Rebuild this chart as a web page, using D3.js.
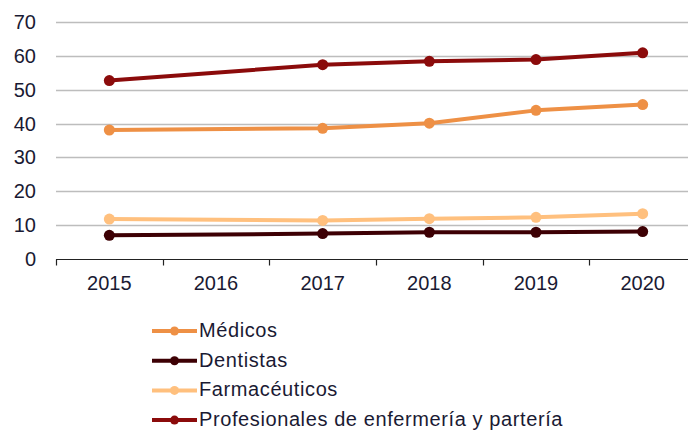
<!DOCTYPE html>
<html>
<head>
<meta charset="utf-8">
<script src="https://cdn.jsdelivr.net/npm/d3@7"></script>
<style>
  body { margin: 0; background: #fff; }
  svg { display: block; font-family: "Liberation Sans", Arial, sans-serif; }
</style>
</head>
<body>
<div id="chart"></div>
<script>
// Data
const years = ["2015", "2016", "2017", "2018", "2019", "2020"];
const medicos = [38.1, null, 38.6, 40.1, 43.9, 45.6];
const dentistas = [7.0, null, 7.5, 7.9, 7.9, 8.1];
const farmaceuticos = [11.8, null, 11.4, 11.9, 12.3, 13.4];
const enfermeria = [52.7, null, 57.4, 58.4, 58.9, 60.9];
const yTicks = [0, 10, 20, 30, 40, 50, 60, 70];

const series = [
  { name: "Médicos", values: medicos, color: "#ee9045" },
  { name: "Dentistas", values: dentistas, color: "#3d0004" },
  { name: "Farmacéuticos", values: farmaceuticos, color: "#ffc07e" },
  { name: "Profesionales de enfermería y partería", values: enfermeria, color: "#8b0b0b" },
];

const width = 688;
const height = 432;

const svg = d3
  .select("#chart")
  .append("svg")
  .attr("width", width)
  .attr("height", height);

// Scales
const x = d3.scaleBand().domain(years).range([56, 696]);
const y = d3.scaleLinear().domain([0, 70]).range([259, 22]);

// Gridlines
svg
  .append("g")
  .selectAll("line")
  .data(yTicks.filter((d) => d > 0))
  .join("line")
  .attr("x1", 56)
  .attr("x2", width)
  .attr("y1", (d) => Math.round(y(d)) + 0.5)
  .attr("y2", (d) => Math.round(y(d)) + 0.5)
  .attr("stroke", "#bdbdbd")
  .attr("stroke-width", 1.3);

// Y labels
svg
  .append("g")
  .selectAll("text")
  .data(yTicks)
  .join("text")
  .attr("x", 36)
  .attr("y", (d) => y(d))
  .attr("dy", "0.35em")
  .attr("text-anchor", "end")
  .attr("fill", "#1a1a33")
  .style("font-size", "20px")
  .text((d) => d);

// X axis
const xAxis = svg
  .append("g")
  .attr("transform", `translate(0, ${Math.round(y(0)) + 0.5})`);

xAxis
  .append("line")
  .attr("x1", 56)
  .attr("x2", width)
  .attr("stroke", "#222")
  .attr("stroke-width", 1.2);

xAxis
  .selectAll("line.tick")
  .data(years)
  .join("line")
  .attr("class", "tick")
  .attr("x1", (d) => Math.round(x(d)) + 0.5)
  .attr("x2", (d) => Math.round(x(d)) + 0.5)
  .attr("y1", 0)
  .attr("y2", 6)
  .attr("stroke", "#222")
  .attr("stroke-width", 1.2);

xAxis
  .selectAll("text")
  .data(years)
  .join("text")
  .attr("x", (d) => x(d) + x.bandwidth() / 2)
  .attr("y", 30)
  .attr("text-anchor", "middle")
  .attr("fill", "#1a1a33")
  .style("font-size", "20px")
  .text((d) => d);

// Lines and markers (2016 has no value, the line connects across it)
const line = d3
  .line()
  .x((d) => x(d.year) + x.bandwidth() / 2)
  .y((d) => y(d.value));

series.forEach((s) => {
  const pts = years
    .map((yr, i) => ({ year: yr, value: s.values[i] }))
    .filter((d) => d.value != null);

  const g = svg.append("g");
  g.append("path")
    .datum(pts)
    .attr("d", line)
    .attr("fill", "none")
    .attr("stroke", s.color)
    .attr("stroke-width", 4)
    .attr("stroke-linejoin", "round");

  g.selectAll("circle")
    .data(pts)
    .join("circle")
    .attr("cx", (d) => x(d.year) + x.bandwidth() / 2)
    .attr("cy", (d) => y(d.value))
    .attr("r", 5.5)
    .attr("fill", s.color);
});

// Legend
const legend = svg.append("g").attr("transform", "translate(152, 331)");
series.forEach((s, i) => {
  const row = legend.append("g").attr("transform", `translate(0, ${i * 29.7})`);
  row
    .append("line")
    .attr("x1", 0)
    .attr("x2", 45)
    .attr("stroke", s.color)
    .attr("stroke-width", 4);
  row
    .append("circle")
    .attr("cx", 22.5)
    .attr("r", 4.5)
    .attr("fill", s.color);
  row
    .append("text")
    .attr("x", 47)
    .attr("y", -1)
    .attr("dy", "0.35em")
    .attr("fill", "#1a1a33")
    .style("font-size", "20px")
    .style("letter-spacing", "0.6px")
    .text(s.name);
});
</script>
</body>
</html>
